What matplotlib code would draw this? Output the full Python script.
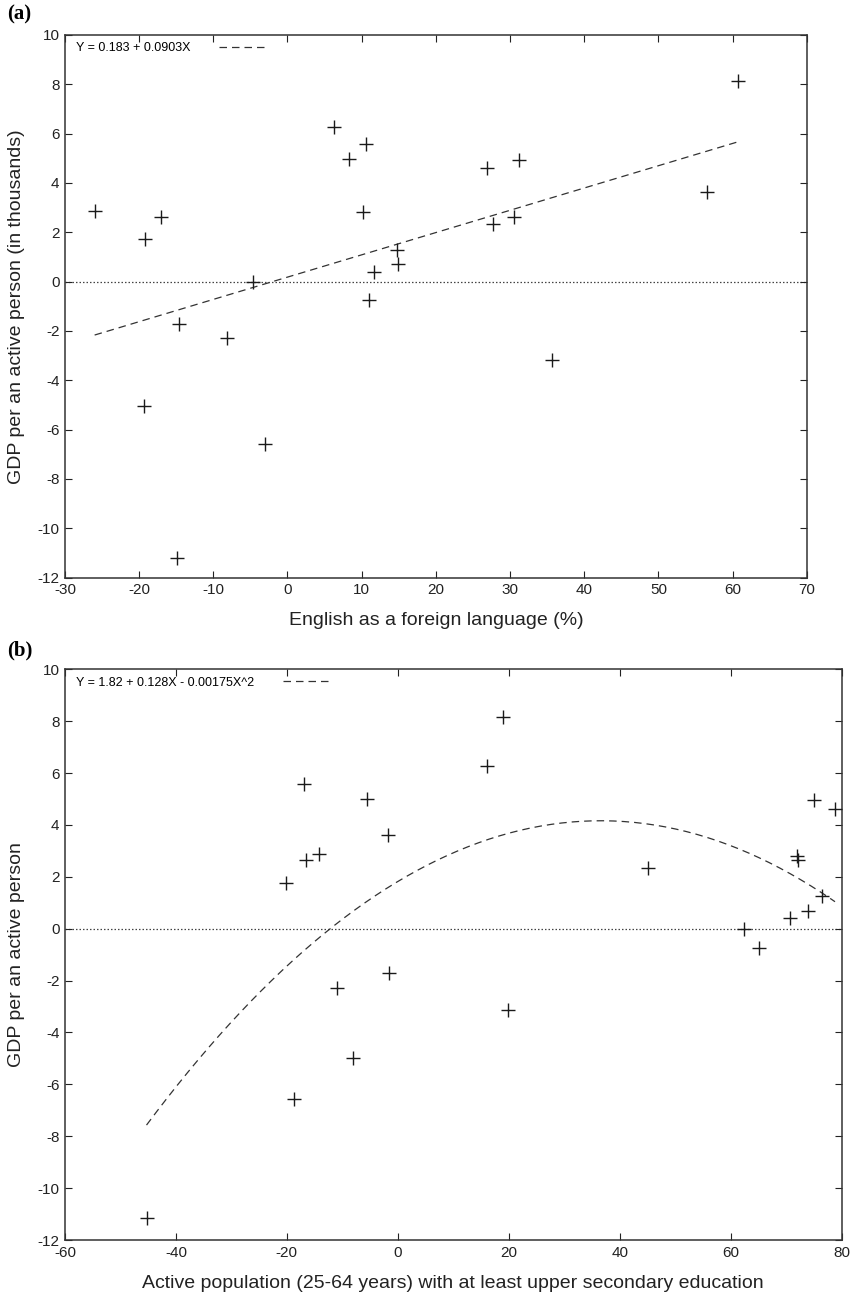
import numpy as np
import matplotlib
matplotlib.use("Agg")
import matplotlib.pyplot as plt
from matplotlib.lines import Line2D

plt.rcParams['font.family'] = ['Liberation Sans', 'DejaVu Sans']
plt.rcParams['axes.unicode_minus'] = False

# Panel (a) data
eng_x = [-26.0, -19.2, -17.0, -14.6, -19.3, -14.9, -8.2, -4.6, -3.0, 6.3, 8.3, 10.6,
         10.2, 11.0, 11.7, 14.7, 14.9, 26.9, 27.7, 30.5, 31.2, 35.7, 56.6, 60.8]
eng_y = [2.87, 1.73, 2.62, -1.73, -5.03, -11.19, -2.30, 0.0, -6.58, 6.26, 4.99, 5.58,
         2.81, -0.74, 0.39, 1.28, 0.70, 4.62, 2.33, 2.61, 4.92, -3.17, 3.62, 8.14]
eng_coef = [0.183, 0.0903]
eng_label = "Y = 0.183 + 0.0903X"

# Panel (b) data
edu_x = [-16.9, -5.6, -1.7, -16.6, -14.2, -20.2, 19.0, 16.1, 75.1, 78.8, 45.1, 72.0,
         72.2, 76.5, 74.0, 70.7, 62.4, 65.1, -1.55, -10.9, -8.0, -18.7, -45.3, 19.9]
edu_y = [5.58, 5.0, 3.62, 2.65, 2.87, 1.76, 8.15, 6.28, 4.95, 4.63, 2.34, 2.81,
         2.65, 1.26, 0.69, 0.41, 0.0, -0.73, -1.72, -2.27, -5.0, -6.57, -11.16, -3.15]
edu_coef = [1.82, 0.128, -0.00175]
edu_label = "Y = 1.82 + 0.128X - 0.00175X^2"

fig = plt.figure(figsize=(8.57, 12.99), dpi=100)
ax1 = fig.add_axes([0.0758, 0.5553, 0.8655, 0.4178])
ax2 = fig.add_axes([0.0758, 0.0454, 0.9063, 0.4394])


def style(ax, xlim, xticks):
    ax.set_xlim(*xlim)
    ax.set_ylim(-12, 10)
    ax.set_xticks(xticks)
    ax.set_yticks(np.arange(-12, 11, 2))
    ax.tick_params(direction='in', length=5, width=0.8, top=True, right=True,
                   labelsize=11, pad=4, colors='#222222', labelcolor='#222222')
    for s in ax.spines.values():
        s.set_linewidth(1.1)
        s.set_color('#333333')


def draw(ax, x, y, coef, label, xlabel, ylabel, xlim, xticks):
    style(ax, xlim, xticks)
    ax.axhline(0, color='#444444', lw=0.9, ls=(0, (1.2, 1.6)), zorder=1)
    xs = np.linspace(min(x), max(x), 200)
    ys = sum(c * xs ** i for i, c in enumerate(coef))
    ax.plot(xs, ys, color='#333333', lw=0.9, ls=(0, (6, 4)), zorder=2)
    ax.plot(x, y, ls='none', marker='+', ms=10, mew=1.0, color='#1a1a1a', zorder=3)
    h = Line2D([], [], color='#333333', lw=0.9, ls=(0, (6, 4)))
    ax.legend([h], [label], loc='upper left', markerfirst=False, frameon=False,
              fontsize=9, handlelength=3.6, handletextpad=2.3,
              borderaxespad=0.2, bbox_to_anchor=(0.005, 1.0))
    ax.set_xlabel(xlabel, fontsize=14, labelpad=11, color='#222222')
    ax.set_ylabel(ylabel, fontsize=14, labelpad=9, color='#222222')


draw(ax1, eng_x, eng_y, eng_coef, eng_label, "English as a foreign language (%)",
     "GDP per an active person (in thousands)", (-30, 70), np.arange(-30, 71, 10))
draw(ax2, edu_x, edu_y, edu_coef, edu_label,
     "Active population (25-64 years) with at least upper secondary education",
     "GDP per an active person", (-60, 80), np.arange(-60, 81, 20))

fig.text(0.008, 0.9885, "(a)", fontsize=15, fontweight='bold',
         family=['Liberation Serif', 'DejaVu Serif'], va='center', ha='left')
fig.text(0.008, 0.4995, "(b)", fontsize=15, fontweight='bold',
         family=['Liberation Serif', 'DejaVu Serif'], va='center', ha='left')

fig.savefig("out.png", dpi=100)
